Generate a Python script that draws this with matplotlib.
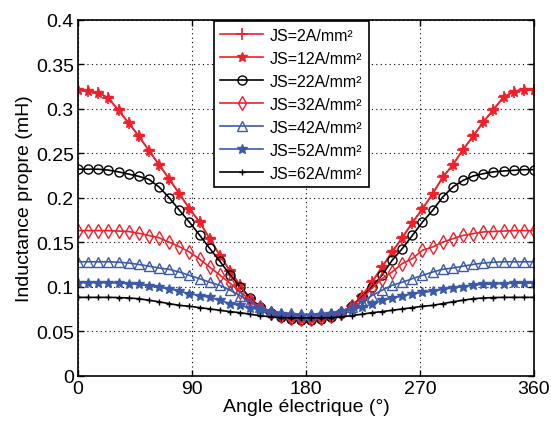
import numpy as np
import matplotlib
matplotlib.use("Agg")
import matplotlib.pyplot as plt

plt.rcParams['font.family'] = ['Liberation Sans', 'DejaVu Sans']

# electrical angle (deg), one sample every 8 deg
angle = np.arange(0, 361, 8)

js2 = [0.321, 0.320, 0.318, 0.312, 0.298, 0.284, 0.269, 0.253, 0.237, 0.221,
       0.2045, 0.1876, 0.1727, 0.154, 0.135, 0.118, 0.1015, 0.0865, 0.077, 0.070,
       0.067, 0.065, 0.064, 0.064, 0.065, 0.067, 0.070, 0.078, 0.089, 0.105,
       0.122, 0.139, 0.155, 0.172, 0.1876, 0.2045, 0.223, 0.237, 0.254, 0.2693,
       0.285, 0.299, 0.313, 0.319, 0.321, 0.321]
js12 = [0.321, 0.320, 0.318, 0.312, 0.298, 0.284, 0.269, 0.253, 0.237, 0.221,
        0.2045, 0.1876, 0.1727, 0.154, 0.135, 0.118, 0.1015, 0.0865, 0.077, 0.070,
        0.067, 0.065, 0.064, 0.064, 0.065, 0.067, 0.070, 0.078, 0.089, 0.105,
        0.122, 0.139, 0.155, 0.172, 0.1876, 0.2045, 0.223, 0.237, 0.254, 0.2693,
        0.285, 0.299, 0.313, 0.319, 0.321, 0.321]
js22 = [0.232, 0.232, 0.232, 0.231, 0.229, 0.2265, 0.224, 0.2205, 0.212, 0.200,
        0.186, 0.1725, 0.158, 0.143, 0.1285, 0.1135, 0.0997, 0.087, 0.077, 0.070,
        0.066, 0.064, 0.063, 0.063, 0.064, 0.066, 0.070, 0.078, 0.088, 0.100,
        0.1127, 0.1296, 0.1427, 0.1576, 0.1727, 0.1857, 0.2008, 0.212, 0.2194, 0.2244,
        0.227, 0.229, 0.230, 0.2307, 0.2315, 0.2315]
js32 = [0.163, 0.163, 0.163, 0.163, 0.1625, 0.162, 0.160, 0.1575, 0.155, 0.150,
        0.145, 0.139, 0.131, 0.122, 0.113, 0.104, 0.094, 0.085, 0.077, 0.071,
        0.067, 0.065, 0.064, 0.064, 0.065, 0.067, 0.071, 0.078, 0.087, 0.098,
        0.109, 0.1165, 0.126, 0.1315, 0.141, 0.1446, 0.150, 0.154, 0.1576, 0.1596,
        0.1615, 0.162, 0.1625, 0.163, 0.163, 0.163]
js42 = [0.128, 0.128, 0.128, 0.128, 0.1275, 0.1266, 0.125, 0.123, 0.121, 0.1195,
        0.1165, 0.1127, 0.109, 0.105, 0.1015, 0.096, 0.090, 0.083, 0.077, 0.073,
        0.071, 0.070, 0.069, 0.069, 0.070, 0.071, 0.073, 0.077, 0.083, 0.090,
        0.096, 0.1015, 0.105, 0.109, 0.1127, 0.1165, 0.1195, 0.121, 0.123, 0.125,
        0.1266, 0.1275, 0.128, 0.128, 0.128, 0.128]
js52 = [0.1045, 0.1045, 0.1045, 0.1045, 0.104, 0.1035, 0.1026, 0.1007, 0.0992, 0.0977,
        0.095, 0.092, 0.090, 0.088, 0.0846, 0.081, 0.079, 0.076, 0.074, 0.071,
        0.069, 0.068, 0.0675, 0.0675, 0.068, 0.069, 0.071, 0.074, 0.077, 0.080,
        0.0845, 0.087, 0.0895, 0.092, 0.0935, 0.095, 0.097, 0.0988, 0.100, 0.1016,
        0.1026, 0.103, 0.1035, 0.104, 0.104, 0.104]
js62 = [0.088, 0.088, 0.088, 0.088, 0.0878, 0.0873, 0.0865, 0.0848, 0.083, 0.081,
        0.079, 0.078, 0.0765, 0.075, 0.0735, 0.072, 0.0708, 0.069, 0.0675, 0.066,
        0.0652, 0.065, 0.065, 0.065, 0.065, 0.0652, 0.066, 0.0675, 0.069, 0.0708,
        0.072, 0.0735, 0.075, 0.0765, 0.078, 0.079, 0.081, 0.083, 0.0848, 0.0865,
        0.0873, 0.0878, 0.088, 0.088, 0.088, 0.088]

labels = ['JS=2A/mm²', 'JS=12A/mm²', 'JS=22A/mm²', 'JS=32A/mm²',
          'JS=42A/mm²', 'JS=52A/mm²', 'JS=62A/mm²']

red = '#f0202a'
blue = '#3c5aaa'

fig = plt.figure(figsize=(5.51, 4.31), dpi=100)
ax = fig.add_axes([0.1416, 0.126, 0.8274, 0.826])

lw = 1.2
ax.plot(angle, js2, color=red, marker='+', ms=8, mew=1.2, lw=lw, label=labels[0])
ax.plot(angle, js12, color=red, marker='*', ms=7, mew=1.0, lw=lw, label=labels[1])
ax.plot(angle, js22, color='black', marker='o', ms=6.5, mfc='none', mew=1.0, lw=lw, label=labels[2])
ax.plot(angle, js32, color=red, marker='d', ms=7, mfc='none', mew=1.0, lw=lw, label=labels[3])
ax.plot(angle, js42, color=blue, marker='^', ms=6.5, mfc='none', mew=1.0, lw=lw, label=labels[4])
ax.plot(angle, js52, color=blue, marker='*', ms=7, mew=1.0, lw=lw, label=labels[5])
ax.plot(angle, js62, color='black', marker='+', ms=4.5, mew=1.0, lw=lw, label=labels[6])

ax.set_xlim(0, 360)
ax.set_ylim(0, 0.4)
ax.set_xticks([0, 90, 180, 270, 360])
ax.set_yticks(np.arange(0, 0.401, 0.05))
ax.set_yticklabels(['0', '0.05', '0.1', '0.15', '0.2', '0.25', '0.3', '0.35', '0.4'])
ax.tick_params(direction='in', top=True, right=True, labelsize=14, length=4, width=1.0, pad=3)
ax.grid(True, linestyle=(0, (1, 3)), color='black', linewidth=0.8)
for s in ax.spines.values():
    s.set_linewidth(1.2)

ax.set_xlabel('Angle électrique (°)', fontsize=14, labelpad=1)
ax.set_ylabel('Inductance propre (mH)', fontsize=14, labelpad=2)

leg = ax.legend(loc='upper left', bbox_to_anchor=(0.298, 0.995), fontsize=11.5,
                handlelength=2.7, handletextpad=0.4, labelspacing=0.5,
                borderpad=0.4, borderaxespad=0.0, fancybox=False, framealpha=1)
leg.get_frame().set_edgecolor('black')
leg.get_frame().set_linewidth(1.2)

fig.savefig('out.png', dpi=100)
